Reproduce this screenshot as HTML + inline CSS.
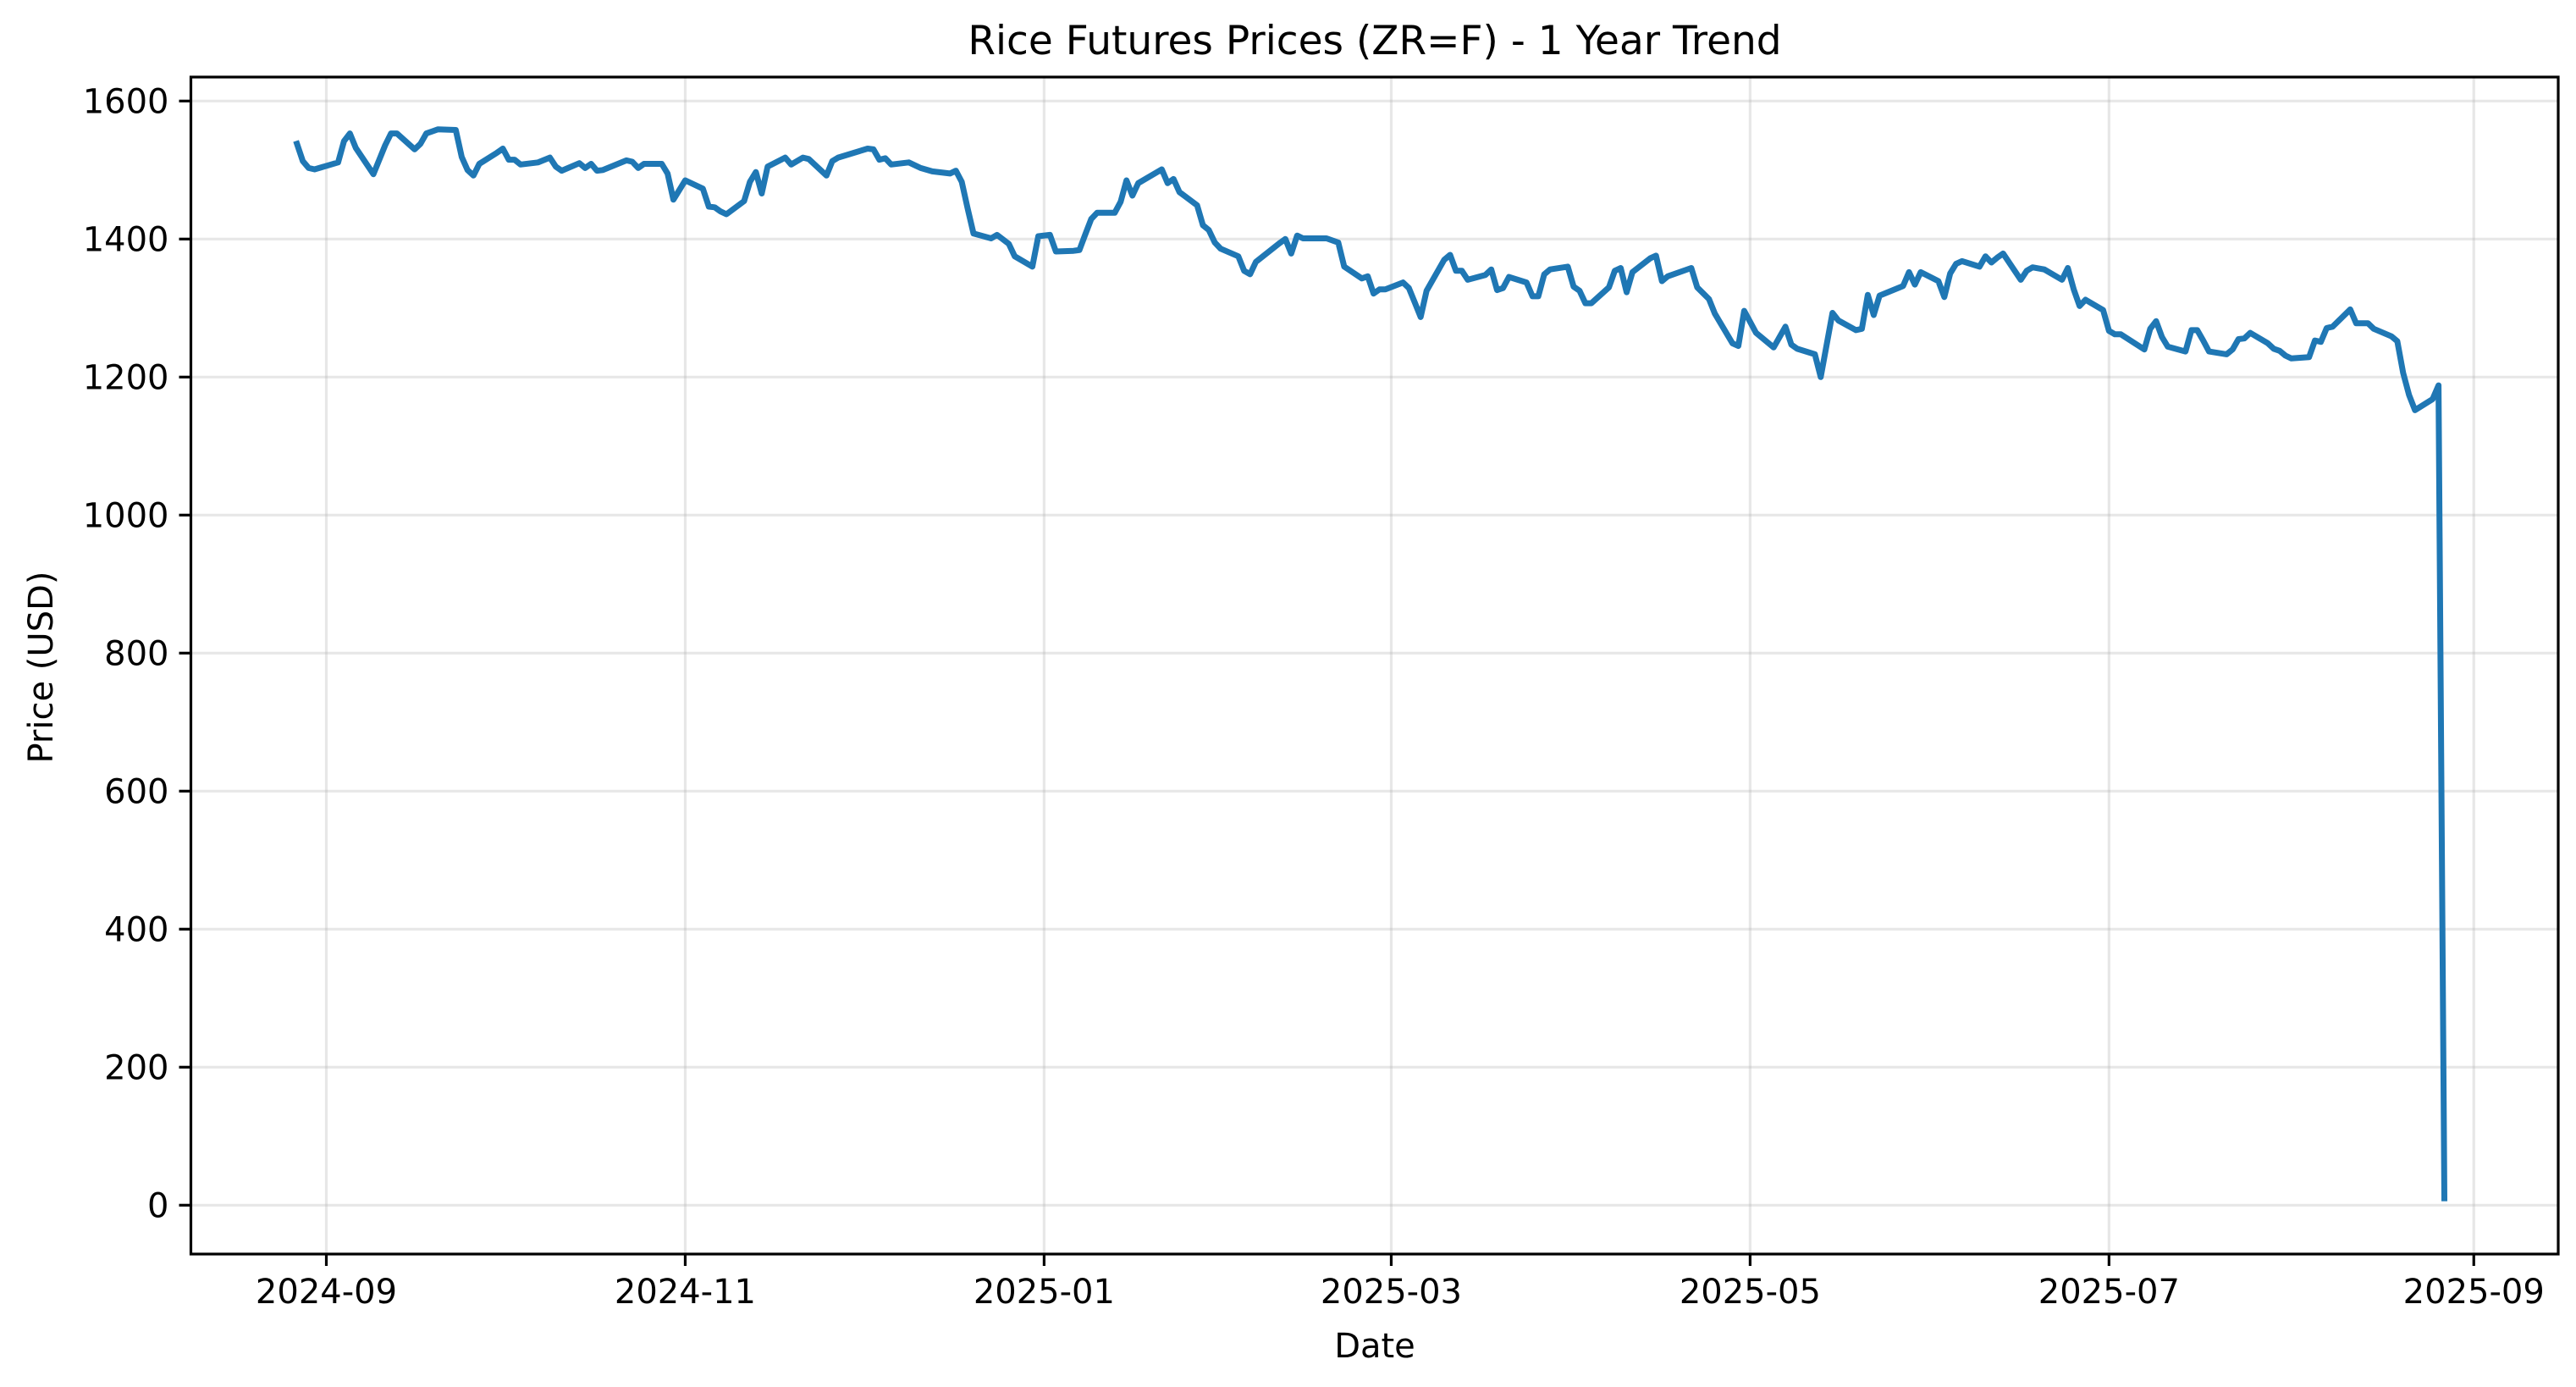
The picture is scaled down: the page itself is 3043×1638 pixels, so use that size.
<!DOCTYPE html>
<html><head><meta charset="utf-8"><title>Rice Futures Prices</title>
<style>
html,body{margin:0;padding:0;background:#fff;}
svg{display:block;font-family:"DejaVu Sans","Liberation Sans",sans-serif;}
</style></head>
<body>
<svg id="chart" width="3043" height="1638" viewBox="0 0 3043 1638" xmlns="http://www.w3.org/2000/svg">
<rect width="3043" height="1638" fill="#fff"/>
<g id="grid"></g>
<g id="series"></g>
<g id="axes"></g>
<text x="1624" y="64" text-anchor="middle" font-size="47">Rice Futures Prices (ZR=F) - 1 Year Trend</text>
<text x="1624" y="1603" text-anchor="middle" font-size="40">Date</text>
<text transform="translate(62,788) rotate(-90)" text-anchor="middle" font-size="40">Price (USD)</text>
</svg>
<script>
const dates = ["2024-08-27","2024-08-28","2024-08-29","2024-08-30","2024-09-03","2024-09-04","2024-09-05","2024-09-06","2024-09-09","2024-09-11","2024-09-12","2024-09-13","2024-09-16","2024-09-17","2024-09-18","2024-09-20","2024-09-23","2024-09-24","2024-09-25","2024-09-26","2024-09-27","2024-09-30","2024-10-01","2024-10-02","2024-10-03","2024-10-04","2024-10-07","2024-10-09","2024-10-10","2024-10-11","2024-10-14","2024-10-15","2024-10-16","2024-10-17","2024-10-18","2024-10-22","2024-10-23","2024-10-24","2024-10-25","2024-10-28","2024-10-29","2024-10-30","2024-11-01","2024-11-04","2024-11-05","2024-11-06","2024-11-07","2024-11-08","2024-11-11","2024-11-12","2024-11-13","2024-11-14","2024-11-15","2024-11-18","2024-11-19","2024-11-21","2024-11-22","2024-11-25","2024-11-26","2024-11-27","2024-12-02","2024-12-03","2024-12-04","2024-12-05","2024-12-06","2024-12-09","2024-12-11","2024-12-13","2024-12-16","2024-12-17","2024-12-18","2024-12-19","2024-12-20","2024-12-23","2024-12-24","2024-12-26","2024-12-27","2024-12-30","2024-12-31","2025-01-02","2025-01-03","2025-01-06","2025-01-07","2025-01-08","2025-01-09","2025-01-10","2025-01-13","2025-01-14","2025-01-15","2025-01-16","2025-01-17","2025-01-21","2025-01-22","2025-01-23","2025-01-24","2025-01-27","2025-01-28","2025-01-29","2025-01-30","2025-01-31","2025-02-03","2025-02-04","2025-02-05","2025-02-06","2025-02-10","2025-02-11","2025-02-12","2025-02-13","2025-02-14","2025-02-18","2025-02-20","2025-02-21","2025-02-24","2025-02-25","2025-02-26","2025-02-27","2025-02-28","2025-03-03","2025-03-04","2025-03-05","2025-03-06","2025-03-07","2025-03-10","2025-03-11","2025-03-12","2025-03-13","2025-03-14","2025-03-17","2025-03-18","2025-03-19","2025-03-20","2025-03-21","2025-03-24","2025-03-25","2025-03-26","2025-03-27","2025-03-28","2025-03-31","2025-04-01","2025-04-02","2025-04-03","2025-04-04","2025-04-07","2025-04-08","2025-04-09","2025-04-10","2025-04-11","2025-04-14","2025-04-15","2025-04-16","2025-04-17","2025-04-21","2025-04-22","2025-04-24","2025-04-25","2025-04-28","2025-04-29","2025-04-30","2025-05-02","2025-05-05","2025-05-06","2025-05-07","2025-05-08","2025-05-09","2025-05-12","2025-05-13","2025-05-15","2025-05-16","2025-05-19","2025-05-20","2025-05-21","2025-05-22","2025-05-23","2025-05-27","2025-05-28","2025-05-29","2025-05-30","2025-06-02","2025-06-03","2025-06-04","2025-06-05","2025-06-06","2025-06-09","2025-06-10","2025-06-11","2025-06-12","2025-06-13","2025-06-16","2025-06-17","2025-06-18","2025-06-20","2025-06-23","2025-06-24","2025-06-25","2025-06-26","2025-06-27","2025-06-30","2025-07-01","2025-07-02","2025-07-03","2025-07-07","2025-07-08","2025-07-09","2025-07-10","2025-07-11","2025-07-14","2025-07-15","2025-07-16","2025-07-17","2025-07-18","2025-07-21","2025-07-22","2025-07-23","2025-07-24","2025-07-25","2025-07-28","2025-07-29","2025-07-30","2025-07-31","2025-08-01","2025-08-04","2025-08-05","2025-08-06","2025-08-07","2025-08-08","2025-08-11","2025-08-12","2025-08-14","2025-08-15","2025-08-18","2025-08-19","2025-08-20","2025-08-21","2025-08-22","2025-08-25","2025-08-26","2025-08-27"];
const prices = [1538,1513,1503,1501,1511,1542,1553,1532,1494,1536,1553,1553,1530,1538,1553,1559,1558,1519,1500,1492,1509,1525,1531,1515,1515,1508,1511,1518,1505,1499,1510,1503,1509,1499,1500,1514,1512,1503,1509,1509,1495,1457,1485,1473,1447,1446,1440,1436,1455,1483,1497,1466,1505,1518,1508,1518,1516,1492,1513,1518,1531,1530,1515,1517,1508,1511,1503,1498,1495,1499,1483,1444,1408,1401,1406,1393,1375,1360,1404,1406,1382,1383,1384,1407,1429,1438,1438,1454,1485,1463,1481,1501,1481,1487,1468,1449,1420,1413,1395,1386,1375,1354,1349,1367,1394,1400,1379,1405,1401,1401,1395,1360,1343,1346,1321,1327,1327,1337,1329,1308,1287,1325,1370,1377,1354,1354,1341,1348,1356,1326,1329,1345,1337,1317,1317,1349,1356,1360,1331,1325,1307,1307,1330,1354,1358,1323,1352,1372,1376,1339,1346,1358,1330,1313,1292,1249,1245,1296,1264,1243,1258,1273,1247,1241,1233,1200,1293,1282,1268,1270,1319,1290,1318,1332,1352,1334,1352,1339,1316,1350,1364,1368,1360,1375,1366,1373,1379,1341,1354,1359,1356,1341,1358,1327,1303,1312,1297,1267,1262,1262,1240,1270,1281,1258,1244,1237,1268,1268,1253,1237,1233,1240,1255,1256,1264,1249,1241,1238,1231,1227,1229,1253,1251,1271,1273,1298,1278,1278,1270,1259,1252,1206,1174,1152,1168,1188,10];
const yTicks = [0,200,400,600,800,1000,1200,1400,1600];
const xTickLabels = ["2024-09","2024-11","2025-01","2025-03","2025-05","2025-07","2025-09"];

const NS = "http://www.w3.org/2000/svg";
const L = 225.5, R = 3022, T = 91, B = 1481;
const day0 = Date.UTC(2024, 8, 1);
function dayOf(s){const p=s.split("-").map(Number);return (Date.UTC(p[0],p[1]-1,p[2]||1)-day0)/86400000;}
function xScale(s){return 385.5 + dayOf(s)*6.95;}
function yScale(v){return 1423.3 - v*0.815;}
function mk(tag, attrs, parent){const e=document.createElementNS(NS,tag);for(const k in attrs)e.setAttribute(k,attrs[k]);parent.appendChild(e);return e;}
const grid=document.getElementById('grid'), axes=document.getElementById('axes'), series=document.getElementById('series');

yTicks.forEach(v=>{
  const y=yScale(v);
  const g=mk('line',{x1:L,x2:R,y1:y,y2:y,stroke:'#b0b0b0','stroke-opacity':0.3,'stroke-width':3.2},grid);
  
  
  const t=mk('line',{x1:L-14,x2:L,y1:y,y2:y,stroke:'#000','stroke-width':3.2},axes);
  
  
  const lb=mk('text',{x:L-26,y:y+14,'text-anchor':'end','font-size':40},axes);
  lb.textContent=String(v);
  
  
});
xTickLabels.forEach(s=>{
  const x=xScale(s);
  const g=mk('line',{x1:x,x2:x,y1:T,y2:B,stroke:'#b0b0b0','stroke-opacity':0.3,'stroke-width':3.2},grid);
  
  
  const t=mk('line',{x1:x,x2:x,y1:B,y2:B+14,stroke:'#000','stroke-width':3.2},axes);
  
  
  const lb=mk('text',{x:x,y:B+58,'text-anchor':'middle','font-size':40},axes);
  lb.textContent=s;
  
  
});
const d = dates.map((s,i)=>(i?'L':'M')+xScale(s).toFixed(1)+','+yScale(prices[i]).toFixed(1)).join(' ');
const path=mk('path',{d:d,fill:'none',stroke:'#1f77b4','stroke-width':7,'stroke-linejoin':'round','stroke-linecap':'square'},series);


const frame=mk('rect',{x:L,y:T,width:R-L,height:B-T,fill:'none',stroke:'#000','stroke-width':3.2},axes);


</script>
</body></html>
